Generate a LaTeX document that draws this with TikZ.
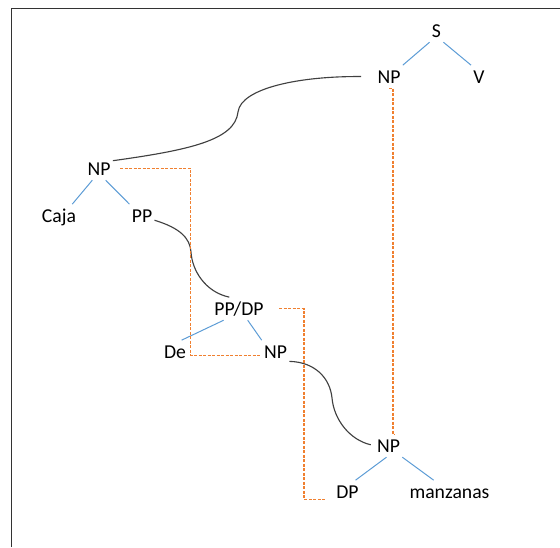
\documentclass[tikz,border=0pt]{standalone}
\usepackage{fontspec}
\setmainfont{Carlito}
\definecolor{branchblue}{HTML}{5B9BD5}
\definecolor{traceorange}{HTML}{F08030}
\definecolor{linkgray}{HTML}{404040}
\begin{document}
\begin{tikzpicture}[font=\fontsize{14}{16}\selectfont, every node/.style={inner sep=1.5pt, text height=11pt, text depth=2pt, anchor=base}, branch/.style={draw=branchblue, line width=0.7pt}, link/.style={draw=linkgray, line width=0.8pt}, trace/.style={draw=traceorange, line width=0.75pt, dash pattern=on 2.2pt off 1pt}]
	\useasboundingbox (0, 0) rectangle (14, -13.675);
	\draw[black!80, line width=0.7pt] (0.28, -13.675) |- (14, -0.21);
	
	% Oración
	\node (S) at (10.9125, -0.925) {S};
	\node (NPs) at (9.725, -2.075) {NP};
	\node (V) at (11.975, -2.075) {V};
	
	% Sintagma nominal de la izquierda
	\node (NPl) at (2.475, -4.375) {NP};
	\node (Caja) at (1.475, -5.55) {Caja};
	\node (PP) at (3.55, -5.55) {PP};
	
	\node (PPDP) at (5.975, -7.875) {PP/DP};
	\node (De) at (4.375, -8.95) {De};
	\node (NPm) at (6.8875, -8.95) {NP};
	
	\node (NPb) at (9.7125, -11.3) {NP};
	\node (DP) at (8.6875, -12.45) {DP};
	\node (manz) at (11.2375, -12.45) {manzanas};
	
	% Ramas
	\draw[branch] (S.south west) -- (NPs.north east);
	\draw[branch] (S.south east) -- (V.north west);
	\draw[branch] (NPl.-120) -- (Caja.41);
	\draw[branch] (NPl.-60) -- (PP.north west);
	\draw[branch] (PPDP.-143) -- (De.60);
	\draw[branch] (PPDP.-53) -- (NPm.north west);
	\draw[branch] (NPb.-100) -- (DP.55);
	\draw[branch] (NPb.south east) -- (manz.144);
	
	% Movimientos
	\draw[link, shorten >=0.35cm] (NPl.30) .. controls (4.75, -3.75) and (5.875, -3.5) .. (5.95, -2.8) .. controls (6.025, -2.2) and (7.5, -1.9) .. (NPs.west);
	\draw[link] (PP.-20) .. controls (4.5, -5.7) and (4.75, -5.95) .. (4.775, -6.3) .. controls (4.8, -6.75) and (5.125, -7.3) .. (PPDP.130);
	\draw[link, shorten >=0.1cm] (NPm.-35) .. controls (7.875, -9.05) and (8.25, -9.45) .. (8.3, -9.95) .. controls (8.35, -10.5) and (8.75, -11.0) .. (NPb.west);
	
	% Huellas
	\draw[trace, shorten <=0.18cm] (NPl.east) -- ++(1.95, 0) |- (NPm.-165);
	\draw[trace, shorten <=0.33cm, shorten >=0.2cm] (PPDP.east) -- ++(0.95, 0) |- (DP.-150);
	\draw[trace] (NPs.south) -- ++(0.1, 0) |- (NPb.60);
\end{tikzpicture}
\end{document}
